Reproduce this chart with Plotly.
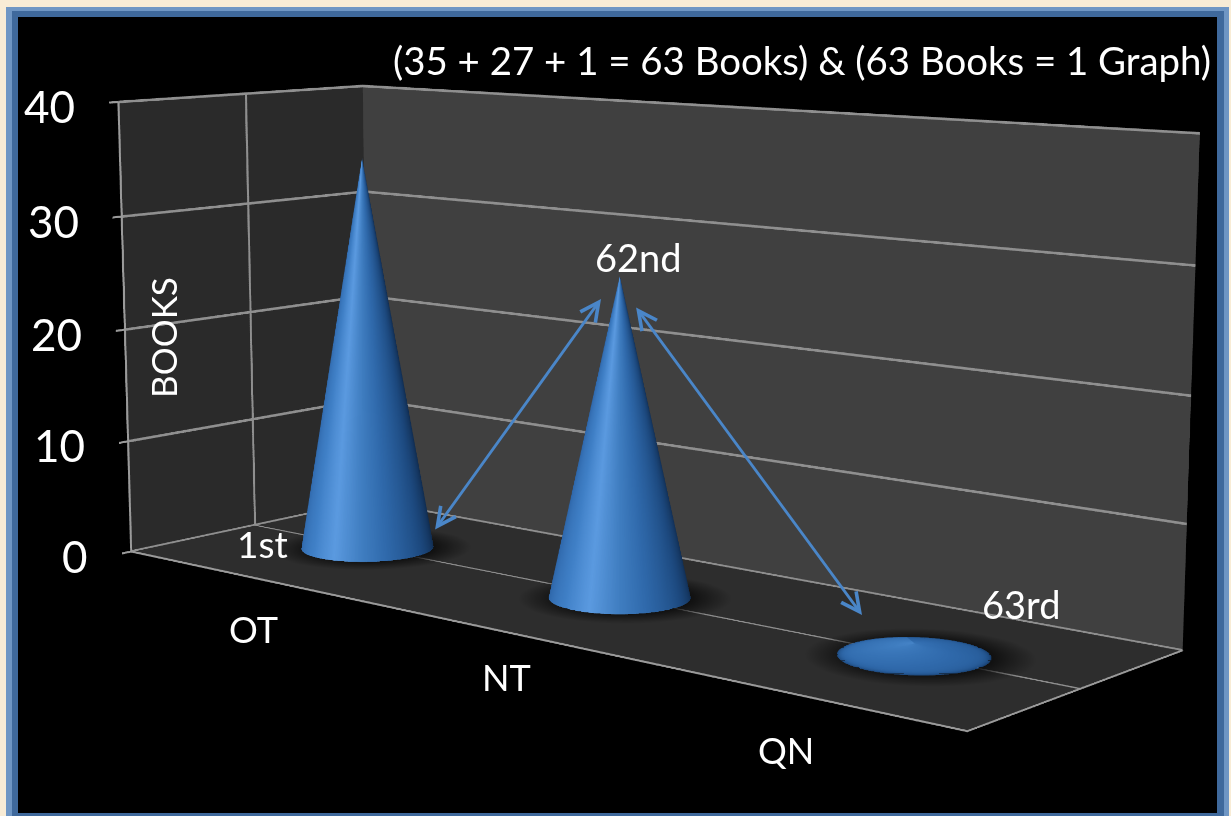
import numpy as np
import plotly.graph_objects as go

categories = ["OT", "NT", "QN"]
books = [35, 27, 1]
z_ticks = [0, 10, 20, 30, 40]
ordinal_labels = ["1st", "62nd", "63rd"]
title_text = "(35 + 27 + 1 = 63 Books) & (63 Books = 1 Graph)"

X_RANGE = [-0.5, 2.5]
Y_RANGE = [0, 2]
Z_RANGE = [0, 40]

# The long-lens view of the reference needs a plot three times the window;
# the page shows its central 1231x816 part.
VIEW_W, VIEW_H, LENS = 1231, 816, 3
FIG_W, FIG_H = VIEW_W * LENS, VIEW_H * LENS
OFF_X, OFF_Y = (FIG_W - VIEW_W) / 2, (FIG_H - VIEW_H) / 2


def px(x):
    return (x + OFF_X) / FIG_W


def py(y):
    return 1 - (y + OFF_Y) / FIG_H


ASPECT = dict(x=2.231, y=0.744, z=1.0)
EYE = dict(x=3.894, y=-4.570, z=0.929)
CENTER = dict(x=-0.009, y=-0.003, z=-0.100)
RADIUS = 0.199

rx = RADIUS
ry = RADIUS * (ASPECT["x"] / 3) / (ASPECT["y"] / 2)

view = np.arctan2(EYE["y"] - CENTER["y"], EYE["x"] - CENTER["x"])
theta = np.linspace(view - np.pi, view + np.pi, 145)
shade = np.clip((theta - view) / (np.pi / 2), -1, 1)

cone_scale = [
    [0.0, "#2c63a6"], [0.22, "#3f7fc6"], [0.36, "#5b9ae0"], [0.5, "#3f7dc0"],
    [0.62, "#2f69ab"], [0.82, "#1d4a80"], [1.0, "#102c50"],
]
flat = dict(ambient=1, diffuse=0, specular=0, roughness=1, fresnel=0)

fig = go.Figure()
for i, v in enumerate(books):
    rr = np.linspace(0, 1.5, 30)
    tt = np.linspace(0, 2 * np.pi, 73)
    R, T = np.meshgrid(rr, tt)
    fig.add_trace(go.Surface(
        x=i + rx * R * np.cos(T) + 0.02, y=1 + ry * R * np.sin(T), z=np.full(R.shape, 0.05),
        surfacecolor=R, cmin=0, cmax=1.5,
        colorscale=[[0, "#0c0c0c"], [1, "#0c0c0c"]],
        opacityscale=[[0, 0.9], [0.62, 0.85], [1, 0]],
        showscale=False, hoverinfo="skip", lighting=flat,
    ))
    s = np.concatenate([np.linspace(0, 0.1, 12), np.linspace(0.12, 1, 40)])
    S, T = np.meshgrid(s, theta)
    U = np.tile(shade[:, None], (1, len(s)))
    k = min(1.0, v / 10)
    U = k * U + (1 - k) * (0.34 - 0.3 * S + 0.5 * np.exp(-S / 0.05))
    fig.add_trace(go.Surface(
        x=i + rx * (1 - S) * np.cos(T), y=1 + ry * (1 - S) * np.sin(T), z=v * S,
        surfacecolor=U, cmin=-1, cmax=1,
        colorscale=cone_scale, showscale=False, hoverinfo="skip", lighting=flat,
    ))

axis_common = dict(showspikes=False, zeroline=False, showline=True, linecolor="#9a9a9a", linewidth=4, title="",
                   showticklabels=False)

label_shifts = [(9, -53), (8, -47), (-11, -55)]
scene_annotations = [
    dict(x=-0.5, y=0, z=v, text=str(v), showarrow=False, xanchor="right", xshift=-41, yshift=-4,
         font=dict(size=44, color="white")) for v in z_ticks
] + [
    dict(x=i, y=0, z=0, text=c, showarrow=False, xshift=label_shifts[i][0], yshift=label_shifts[i][1],
         font=dict(size=36, color="white"))
    for i, c in enumerate(categories)
]

fig.update_layout(
    width=FIG_W, height=FIG_H, autosize=False,
    margin=dict(l=0, r=0, t=0, b=0),
    paper_bgcolor="#f8ecd6",
    font=dict(family="Lato, sans-serif", color="white"),
    showlegend=False,
    shapes=[
        dict(type="rect", xref="paper", yref="paper", x0=px(6), x1=px(1229), y0=py(820), y1=py(7),
             fillcolor="#6f96c4", line=dict(width=0), layer="below"),
        dict(type="rect", xref="paper", yref="paper", x0=px(12), x1=px(1224), y0=py(820), y1=py(11),
             fillcolor="#3f699c", line=dict(width=0), layer="below"),
        dict(type="rect", xref="paper", yref="paper", x0=px(18), x1=px(1217), y0=py(813), y1=py(17),
             fillcolor="#000000", line=dict(width=0), layer="below"),
    ],
    scene=dict(
        domain=dict(x=[0, 1], y=[0, 1]),
        aspectmode="manual", aspectratio=ASPECT,
        camera=dict(eye=EYE, center=CENTER, up=dict(x=0, y=0, z=1), projection=dict(type="perspective")),
        annotations=scene_annotations,
        xaxis=dict(range=X_RANGE, tickvals=[0, 1, 2], showgrid=False,
                   showbackground=True, backgroundcolor="#2a2a2a", **axis_common),
        yaxis=dict(range=Y_RANGE, tickvals=[1], showgrid=True, gridcolor="#8f8f8f",
                   gridwidth=5, showbackground=True, backgroundcolor="#404040", **axis_common),
        zaxis=dict(range=Z_RANGE, tickvals=z_ticks, showgrid=True, gridcolor="#8f8f8f", gridwidth=5,
                   ticks="outside", ticklen=30, tickcolor="#9a9a9a", tickwidth=4,
                   showbackground=True, backgroundcolor="#2d2d2d", **axis_common),
    ),
    annotations=[
        dict(text=title_text, x=px(1213), y=py(60), xref="paper", yref="paper", xanchor="right",
             yanchor="middle", showarrow=False, font=dict(size=38.4, color="white")),
        dict(text=ordinal_labels[0], x=px(262), y=py(543), xref="paper", yref="paper", showarrow=False,
             font=dict(size=37, color="white")),
        dict(text=ordinal_labels[1], x=px(638), y=py(257), xref="paper", yref="paper", showarrow=False,
             font=dict(size=38, color="white")),
        dict(text=ordinal_labels[2], x=px(1021), y=py(604), xref="paper", yref="paper", showarrow=False,
             font=dict(size=38, color="white")),
        dict(text="BOOKS", x=px(163), y=py(338), xref="paper", yref="paper", showarrow=False, textangle=-90,
             font=dict(size=35, color="white")),
    ] + [
        dict(text="", x=px(x1), y=py(y1), xref="paper", yref="paper", ax=x0-x1, ay=y0-y1,
             showarrow=True, arrowside="end+start", arrowhead=5, startarrowhead=5, arrowsize=1.3,
             startarrowsize=1.3, arrowwidth=2.8, arrowcolor="#4a86c8", standoff=0, startstandoff=0)
        for x0, y0, x1, y1 in [(434, 531, 601, 299), (635, 306, 862, 615)]
    ],
)

fig.write_html(
    "out.html",
    config={"displayModeBar": False},
    post_script=(
        f"document.documentElement.style.overflow='hidden';"
        f"document.body.style.overflow='hidden';"
        f"document.body.style.margin='{-OFF_Y}px 0 0 {-OFF_X}px';"
    ),
)
